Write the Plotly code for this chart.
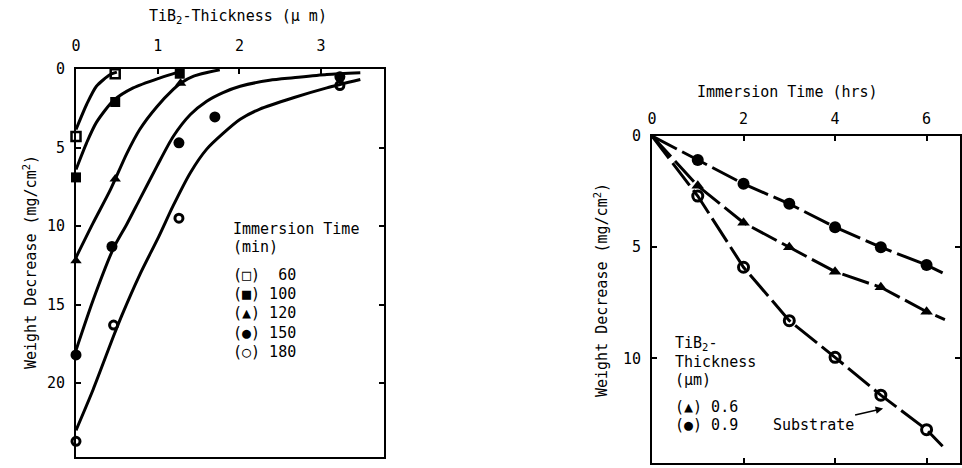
import plotly.graph_objects as go

FONT = "DejaVu Sans Mono"

# ---------------- Left panel: weight decrease vs TiB2 thickness ----------------
# measured points (thickness um, weight decrease mg/cm2)
t60_x = [0.0, 0.48]
t60_y = [4.3, 0.3]
t100_x = [0.0, 0.48, 1.27]
t100_y = [6.9, 2.1, 0.3]
t120_x = [0.0, 0.48, 1.28]
t120_y = [12.2, 7.0, 0.9]
t150_x = [0.0, 0.44, 1.26, 1.70, 3.23]
t150_y = [18.2, 11.3, 4.7, 3.05, 0.5]
t180_x = [0.0, 0.46, 1.26, 3.23]
t180_y = [23.7, 16.3, 9.5, 1.05]

# hand-drawn fitted curves
c60_x = [0.0, 0.13, 0.25, 0.42, 0.50]
c60_y = [3.85, 2.26, 1.1, 0.35, 0.2]
c100_x = [0.0, 0.13, 0.25, 0.46, 0.70, 1.03, 1.25]
c100_y = [6.4, 4.7, 3.4, 2.0, 1.2, 0.56, 0.2]
c120_x = [0.0, 0.21, 0.42, 0.62, 0.78, 0.99, 1.19, 1.28, 1.44, 1.76]
c120_y = [12.0, 9.8, 7.7, 5.4, 3.85, 2.4, 1.3, 0.9, 0.45, 0.05]
c150_x = [0.0, 0.21, 0.46, 0.62, 0.78, 0.99, 1.19, 1.40, 1.60, 1.80, 2.01, 2.37, 2.66, 3.07, 3.48]
c150_y = [17.9, 14.7, 11.4, 9.9, 8.3, 6.2, 4.3, 2.9, 2.05, 1.5, 1.1, 0.72, 0.56, 0.35, 0.24]
c180_x = [0.0, 0.21, 0.46, 0.56, 0.78, 1.01, 1.19, 1.40, 1.60, 1.80, 2.01, 2.25, 2.66, 3.07, 3.48]
c180_y = [23.0, 20.4, 17.0, 15.7, 13.1, 10.7, 8.7, 6.6, 5.1, 4.1, 3.2, 2.55, 1.83, 1.2, 0.67]

left_xticks = [0, 1, 2, 3]
left_yticks = [0, 5, 10, 15, 20]

# ---------------- Right panel: weight decrease vs immersion time ----------------
hrs = [1, 2, 3, 4, 5, 6]
w09 = [1.08, 2.15, 3.05, 4.1, 5.0, 5.8]
w06 = [2.24, 3.9, 5.0, 6.1, 6.8, 7.9]
wsub = [2.7, 5.9, 8.3, 9.95, 11.65, 13.2]
# line paths (start at origin, run a little past the last point)
l09_x = [0, 1, 2, 3, 4, 5, 6, 6.35]
l09_y = [0, 1.08, 2.15, 3.05, 4.1, 5.0, 5.8, 6.15]
l06_x = [0, 1, 2, 3, 4, 5, 6, 6.4]
l06_y = [0, 2.24, 3.9, 5.0, 6.1, 6.8, 7.9, 8.25]
lsub_x = [0, 1, 2, 3, 4, 5, 6, 6.35]
lsub_y = [0, 2.7, 5.9, 8.3, 9.95, 11.65, 13.2, 13.95]

right_xticks = [0, 2, 4, 6]
right_yticks = [0, 5, 10]

fig = go.Figure()

LW = 3
for cx, cy in [(c60_x, c60_y), (c100_x, c100_y), (c120_x, c120_y),
               (c150_x, c150_y), (c180_x, c180_y)]:
    fig.add_trace(go.Scatter(x=cx, y=cy, mode="lines",
                             line=dict(color="black", width=LW, shape="spline", smoothing=0.7),
                             xaxis="x", yaxis="y", showlegend=False, hoverinfo="skip"))

mk = [
    (t60_x, t60_y, "square-open", 9, 2.5),
    (t100_x, t100_y, "square", 10, 0),
    (t120_x, t120_y, "triangle-up", 10, 0),
    (t150_x, t150_y, "circle", 11, 0),
    (t180_x, t180_y, "circle-open", 8, 3),
]
for xs, ys, sym, sz, lw in mk:
    fig.add_trace(go.Scatter(x=xs, y=ys, mode="markers",
                             marker=dict(symbol=sym, size=sz, color="black", line=dict(color="black", width=lw)),
                             xaxis="x", yaxis="y", showlegend=False, cliponaxis=False))

DASH = "28px,6px"
for lx, ly in [(l09_x, l09_y), (l06_x, l06_y), (lsub_x, lsub_y)]:
    fig.add_trace(go.Scatter(x=lx, y=ly, mode="lines", line=dict(color="black", width=LW, dash=DASH),
                             xaxis="x2", yaxis="y2", showlegend=False, hoverinfo="skip"))

fig.add_trace(go.Scatter(x=hrs, y=w09, mode="markers",
                         marker=dict(symbol="circle", size=12, color="black"),
                         xaxis="x2", yaxis="y2", showlegend=False))
fig.add_trace(go.Scatter(x=hrs, y=w06, mode="markers",
                         marker=dict(symbol="triangle-up", size=11, color="black"),
                         xaxis="x2", yaxis="y2", showlegend=False))
fig.add_trace(go.Scatter(x=hrs, y=wsub, mode="markers",
                         marker=dict(symbol="circle-open", size=10, color="black", line=dict(width=3, color="black")),
                         xaxis="x2", yaxis="y2", showlegend=False))

W, H = 962, 468
axis_common = dict(showgrid=False, zeroline=False, showline=True, linecolor="black", linewidth=2,
                   ticks="inside", ticklen=5, tickwidth=2, tickcolor="black", automargin=False,
                   tickfont=dict(family=FONT, size=15, color="black"))

fig.update_layout(
    width=W, height=H,
    margin=dict(l=0, r=0, t=0, b=0, autoexpand=False),
    paper_bgcolor="white", plot_bgcolor="white",
    font=dict(family=FONT, size=15, color="black"),
    xaxis=dict(domain=[76 / W, 384 / W], range=[0, 3.77], side="top", tickvals=left_xticks,
               mirror=True, anchor="y", ticklabelstandoff=10, **axis_common),
    yaxis=dict(domain=[(H - 457) / H, (H - 69) / H], range=[24.7, 0], tickvals=left_yticks,
               mirror="ticks", anchor="x", ticklabelstandoff=6, **axis_common),
    xaxis2=dict(domain=[652 / W, 960 / W], range=[0, 6.73], side="top", tickvals=right_xticks,
                mirror="ticks", anchor="y2", ticklabelstandoff=4, **axis_common),
    yaxis2=dict(domain=[(H - 463) / H, (H - 136) / H], range=[14.7, 0], tickvals=right_yticks,
                mirror="ticks", anchor="x2", ticklabelstandoff=6, **axis_common),
)

def ptext(text, x, y, xanchor="left", angle=0, size=15):
    fig.add_annotation(text=text, x=x / W, y=1 - y / H, xref="paper", yref="paper",
                       xanchor=xanchor, yanchor="middle", showarrow=False, textangle=angle,
                       font=dict(family=FONT, size=size, color="black"))

# axis titles
ptext("TiB<sub>2</sub>-Thickness (\u03bc m)", 238, 17, xanchor="center")
ptext("Weight Decrease (mg/cm<sup>2</sup>)", 30, 262, xanchor="center", angle=-90)
ptext("Immersion Time (hrs)", 787, 92, xanchor="center")
ptext("Weight Decrease (mg/cm<sup>2</sup>)", 601, 290, xanchor="center", angle=-90)

# left legend
ptext("Immersion Time", 231, 229)
ptext("(min)", 231, 247)
leg_left = [("(\u25a1)  60", 275), ("(\u25a0) 100", 294), ("(\u25b2) 120", 313),
            ("(\u25cf) 150", 333), ("(\u25cb) 180", 352)]
for t, yy in leg_left:
    ptext(t, 231, yy)

# right legend
ptext("TiB<sub>2</sub>-", 673, 343)
ptext("Thickness", 673, 362)
ptext("(\u03bcm)", 673, 380)
ptext("(\u25b2) 0.6", 673, 407)
ptext("(\u25cf) 0.9", 673, 425)

# substrate label with pointer
fig.add_annotation(text="Substrate", x=5.05, y=12.25, xref="x2", yref="y2",
                   showarrow=True, arrowhead=2, arrowsize=1, arrowwidth=1.5, arrowcolor="black",
                   ax=-70, ay=16,
                   font=dict(family=FONT, size=15, color="black"))

fig.write_html("out.html", config={"displayModeBar": False},
               post_script="document.body.style.margin='0';document.body.style.padding='0';")
